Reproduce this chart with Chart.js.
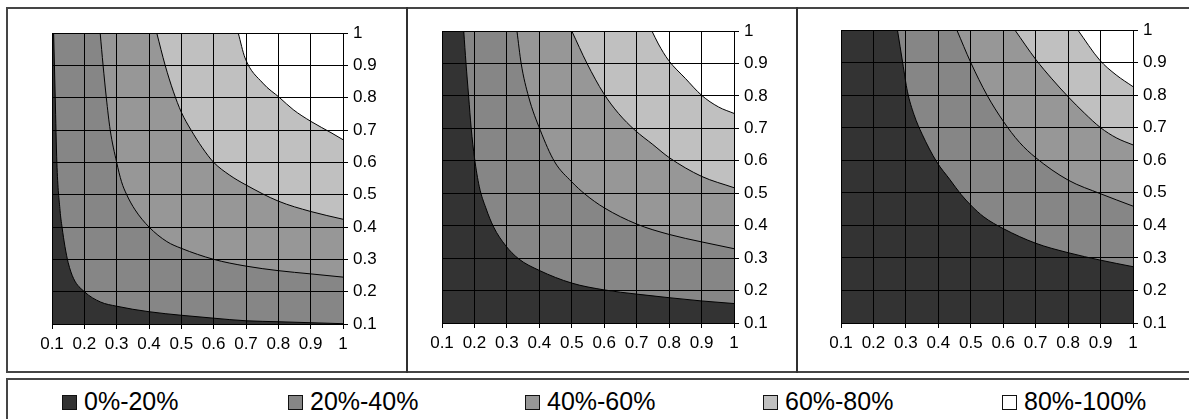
<!DOCTYPE html>
<html>
<head>
<meta charset="utf-8">
<script src="https://cdn.jsdelivr.net/npm/chart.js@4.4.1/dist/chart.umd.min.js"></script>
<style>
  html, body { margin:0; padding:0; background:#fff; width:1189px; height:419px; overflow:hidden; position:relative; }
  .frame { position:absolute; box-sizing:border-box; border:2px solid #454545; }
  .divider { position:absolute; background:#303030; }
  canvas { position:absolute; }
  .leg-sw { position:absolute; box-sizing:border-box; width:15px; height:15px; border:1px solid #111; }
  .leg-tx { position:absolute; font-family:"Liberation Sans", Arial, sans-serif; font-size:25px; line-height:25px; color:#000; white-space:nowrap; }
</style>
</head>
<body>
<div class="frame" style="left:6px; top:7px; width:1200px; height:366px;"></div>
<div class="divider" style="left:406px; top:7px; width:2px; height:366px;"></div>
<div class="divider" style="left:796px; top:7px; width:2px; height:366px;"></div>
<div class="frame" style="left:6px; top:378px; width:1200px; height:60px;"></div>
<canvas id="c1"></canvas>
<canvas id="c2"></canvas>
<canvas id="c3"></canvas>
<div id="legend"></div>
<script>
// ---- tick values / labels ----
const xTickValues = [0.1, 0.2, 0.3, 0.4, 0.5, 0.6, 0.7, 0.8, 0.9, 1];
const xTickLabels = ['0.1','0.2','0.3','0.4','0.5','0.6','0.7','0.8','0.9','1'];
const yTickValues = [0.1, 0.2, 0.3, 0.4, 0.5, 0.6, 0.7, 0.8, 0.9, 1];
const yTickLabels = ['0.1','0.2','0.3','0.4','0.5','0.6','0.7','0.8','0.9','1'];

// ---- bands (legend) ----
const bandLabels = ['0%-20%', '20%-40%', '40%-60%', '60%-80%', '80%-100%'];
const bandColors = ['#333333', '#868686', '#979797', '#c0c0c0', '#ffffff'];

// ---- contour boundaries: [x, y] ----
// Panel 1
const p1_20 = [[0.105,1],[0.11,0.8],[0.115,0.6],[0.125,0.45],[0.131,0.4],[0.14,0.34],[0.15,0.29],[0.167,0.24],[0.2,0.2],[0.25,0.168],[0.3,0.155],[0.4,0.138],[0.5,0.127],[0.6,0.118],[0.7,0.11],[0.8,0.107],[0.9,0.104],[1,0.101]];
const p1_40 = [[0.249,1],[0.258,0.9],[0.268,0.8],[0.28,0.7],[0.3,0.6],[0.315,0.54],[0.331,0.5],[0.357,0.453],[0.4,0.4],[0.455,0.355],[0.5,0.334],[0.6,0.3],[0.7,0.279],[0.8,0.265],[0.9,0.255],[1,0.245]];
const p1_60 = [[0.424,1],[0.45,0.9],[0.475,0.82],[0.5,0.755],[0.53,0.7],[0.565,0.645],[0.6,0.6],[0.65,0.56],[0.7,0.53],[0.8,0.48],[0.9,0.448],[1,0.424]];
const p1_80 = [[0.676,1],[0.697,0.923],[0.752,0.845],[0.804,0.8],[0.846,0.763],[0.9,0.727],[0.966,0.69],[1,0.67]];
// Panel 2
const p2_20 = [[0.167,1],[0.174,0.9],[0.182,0.8],[0.19,0.7],[0.2,0.61],[0.215,0.52],[0.235,0.455],[0.259,0.396],[0.295,0.34],[0.336,0.298],[0.4,0.262],[0.5,0.223],[0.6,0.202],[0.7,0.189],[0.8,0.178],[0.9,0.168],[1,0.16]];
const p2_40 = [[0.331,1],[0.344,0.9],[0.367,0.797],[0.403,0.694],[0.447,0.597],[0.5,0.535],[0.541,0.497],[0.6,0.455],[0.7,0.405],[0.8,0.373],[0.9,0.35],[1,0.329]];
const p2_60 = [[0.5,1],[0.547,0.9],[0.598,0.808],[0.644,0.746],[0.695,0.694],[0.75,0.65],[0.8,0.61],[0.9,0.552],[1,0.517]];
const p2_80 = [[0.747,1],[0.767,0.96],[0.798,0.91],[0.85,0.854],[0.9,0.802],[0.952,0.766],[1,0.746]];
// Panel 3
const p3_20 = [[0.274,1],[0.29,0.9],[0.305,0.81],[0.325,0.74],[0.35,0.68],[0.395,0.595],[0.436,0.54],[0.47,0.495],[0.5,0.462],[0.54,0.426],[0.6,0.39],[0.7,0.345],[0.8,0.316],[0.9,0.293],[1,0.273]];
const p3_40 = [[0.457,1],[0.5,0.9],[0.55,0.8],[0.6,0.72],[0.65,0.655],[0.7,0.608],[0.8,0.539],[0.9,0.497],[1,0.459]];
const p3_60 = [[0.636,1],[0.7,0.91],[0.75,0.85],[0.8,0.795],[0.85,0.745],[0.9,0.7],[0.95,0.668],[1,0.647]];
const p3_80 = [[0.83,1],[0.897,0.908],[0.948,0.862],[1,0.826]];

const panels = [
  { id:'c1', plot:{left:52, top:33, width:291, height:291}, bounds:[p1_20, p1_40, p1_60, p1_80] },
  { id:'c2', plot:{left:442, top:31, width:292, height:292}, bounds:[p2_20, p2_40, p2_60, p2_80] },
  { id:'c3', plot:{left:841, top:30, width:292, height:293}, bounds:[p3_20, p3_40, p3_60, p3_80] }
];

const PAD = {left:30, top:20, right:10, bottom:10};
const Y_AXIS_W = 60, X_AXIS_H = 35;
const tickFont = { family: '"Liberation Sans", Arial, sans-serif', size: 17 };

const band0Plugin = {
  id: 'band0',
  beforeDatasetsDraw(chart) {
    const a = chart.chartArea, ctx = chart.ctx;
    ctx.save();
    ctx.fillStyle = bandColors[0];
    ctx.fillRect(a.left, a.top, a.right - a.left, a.bottom - a.top);
    ctx.restore();
  }
};

panels.forEach(p => {
  const cv = document.getElementById(p.id);
  const w = p.plot.width + PAD.left + PAD.right + Y_AXIS_W;
  const h = p.plot.height + PAD.top + PAD.bottom + X_AXIS_H;
  cv.width = w; cv.height = h;
  cv.style.width = w + 'px'; cv.style.height = h + 'px';
  cv.style.left = (p.plot.left - PAD.left) + 'px';
  cv.style.top = (p.plot.top - PAD.top) + 'px';

  const datasets = p.bounds.map((b, i) => ({
    label: bandLabels[i + 1],
    data: b.map(pt => ({ x: pt[0], y: pt[1] })),
    borderColor: '#000',
    borderWidth: 1,
    backgroundColor: bandColors[i + 1],
    fill: 'end',
    pointRadius: 0,
    cubicInterpolationMode: 'monotone',
    order: 10 - i
  }));

  const gridOpts = { color: '#000', lineWidth: 1, tickLength: 5, drawTicks: true, tickColor: '#000', z: 1 };
  const borderOpts = { display: true, color: '#000', width: 1, z: 1 };

  new Chart(cv, {
    type: 'line',
    data: { datasets },
    plugins: [band0Plugin],
    options: {
      responsive: false,
      animation: false,
      devicePixelRatio: 1,
      layout: { padding: PAD },
      plugins: { legend: { display: false }, tooltip: { enabled: false } },
      scales: {
        x: {
          type: 'linear', position: 'bottom', min: 0.1, max: 1, z: 1,
          afterBuildTicks: s => { s.ticks = xTickValues.map(v => ({ value: v })); },
          afterFit: s => { s.height = X_AXIS_H; s.paddingLeft = 0; s.paddingRight = 0; },
          grid: gridOpts,
          border: borderOpts,
          ticks: {
            autoSkip: false, maxRotation: 0, minRotation: 0, padding: 5,
            color: '#000', font: tickFont,
            callback: (v, i) => xTickLabels[i]
          }
        },
        y: {
          type: 'linear', position: 'right', min: 0.1, max: 1, z: 1,
          afterBuildTicks: s => { s.ticks = yTickValues.map(v => ({ value: v })); },
          afterFit: s => { s.width = Y_AXIS_W; s.paddingTop = 0; s.paddingBottom = 0; },
          grid: gridOpts,
          border: borderOpts,
          ticks: {
            autoSkip: false, padding: 5,
            color: '#000', font: tickFont,
            callback: (v, i) => yTickLabels[i]
          }
        }
      }
    }
  });
});

// ---- legend ----
const legendX = [62, 288, 525, 763, 1002];
const legend = document.getElementById('legend');
bandLabels.forEach((lab, i) => {
  const sw = document.createElement('div');
  sw.className = 'leg-sw';
  sw.style.left = legendX[i] + 'px';
  sw.style.top = '395px';
  sw.style.background = bandColors[i];
  legend.appendChild(sw);
  const tx = document.createElement('div');
  tx.className = 'leg-tx';
  tx.style.left = (legendX[i] + 22) + 'px';
  tx.style.top = '389px';
  tx.textContent = lab;
  legend.appendChild(tx);
});
</script>
</body>
</html>
